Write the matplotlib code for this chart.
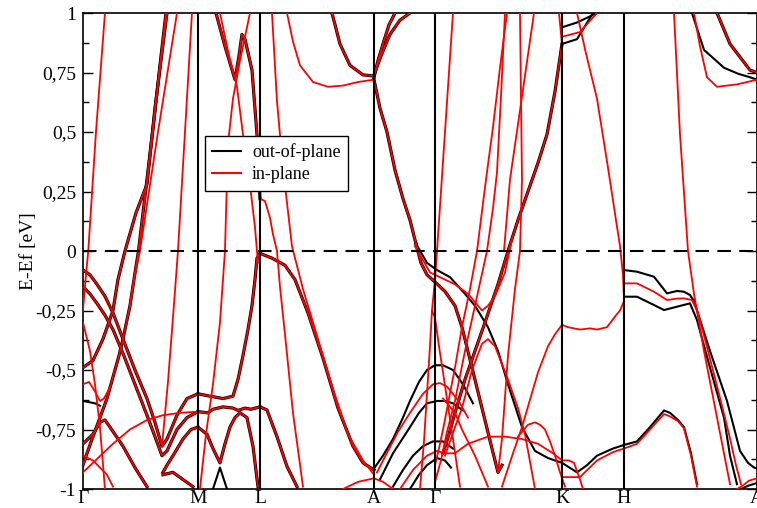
import matplotlib
matplotlib.use("Agg")
import matplotlib.pyplot as plt
from matplotlib.lines import Line2D
from matplotlib.ticker import MultipleLocator

plt.rcParams['font.family'] = ['Liberation Serif', 'DejaVu Serif']

# high-symmetry points along the path
k_ticks = [0.0, 1.15, 1.77, 2.91, 3.52, 4.79, 5.41, 6.74]
k_labels = ['Γ', 'M', 'L', 'A', 'Γ', 'K', 'H', 'A']

y_ticks = [1, 0.75, 0.5, 0.25, 0, -0.25, -0.5, -0.75, -1]
y_labels = ['1', '0,75', '0,5', '0,25', '0', '-0,25', '-0,5', '-0,75', '-1']

# bands, (k, E-Ef) pairs
# "both" = out-of-plane and in-plane almost on top of each other
gm_both = [
    [(0, -0.08), (0.07, -0.10), (0.14, -0.14), (0.22, -0.19), (0.30, -0.26), (0.40, -0.37), (0.52, -0.50),
     (0.64, -0.62), (0.72, -0.72), (0.79, -0.82), (0.84, -0.79), (0.94, -0.69), (1.04, -0.62), (1.15, -0.60)],
    [(0, -0.15), (0.07, -0.18), (0.14, -0.22), (0.22, -0.27), (0.30, -0.33), (0.40, -0.43), (0.52, -0.56),
     (0.64, -0.69), (0.72, -0.78), (0.79, -0.86), (0.84, -0.84), (0.94, -0.75), (1.04, -0.70), (1.15, -0.675)],
    [(0, -0.90), (0.04, -0.85), (0.10, -0.78), (0.17, -0.70), (0.24, -0.62), (0.30, -0.53), (0.36, -0.44),
     (0.40, -0.37), (0.47, -0.23), (0.51, -0.12), (0.555, 0.0), (0.64, 0.30), (0.71, 0.55), (0.77, 0.78), (0.83, 1.0)],
    [(0, -0.49), (0.10, -0.46), (0.20, -0.37), (0.30, -0.25), (0.35, -0.12), (0.42, 0.0), (0.53, 0.16),
     (0.64, 0.28), (0.72, 0.6), (0.84, 1.0)],
    [(0, -0.81), (0.10, -0.77), (0.17, -0.72), (0.22, -0.71), (0.27, -0.74), (0.40, -0.82), (0.52, -0.91), (0.64, -0.99)],
    [(0.80, -0.93), (0.84, -0.90), (0.90, -0.86), (1.0, -0.79), (1.08, -0.75), (1.15, -0.74)],
    [(0.80, -0.94), (0.90, -0.93), (1.0, -0.96), (1.1, -0.99)],
]
gm_red = [
    [(0, -0.25), (0.03, -0.10), (0.053, 0.0), (0.13, 0.5), (0.22, 1.0)],
    [(0, -0.30), (0.07, -0.42), (0.12, -0.56), (0.17, -0.74), (0.22, -1.0)],
    [(0, -0.56), (0.06, -0.55), (0.12, -0.59), (0.17, -0.63), (0.21, -0.62), (0.26, -0.58)],
    [(0.47, -0.23), (0.51, -0.12), (0.57, 0.0), (0.75, 0.5), (0.94, 1.0)],
    [(0.79, -0.82), (0.85, -0.55), (0.90, -0.28), (0.95, 0.0), (1.02, 0.5), (1.09, 1.0)],
    [(0, -0.93), (0.10, -0.89), (0.20, -0.85), (0.30, -0.81), (0.47, -0.75), (0.64, -0.71), (0.80, -0.69),
     (0.97, -0.68), (1.15, -0.675)],
    [(0, -0.86), (0.10, -0.88), (0.24, -0.94), (0.30, -0.99)],
]
gm_black = [
    [(0, -0.63), (0.06, -0.635), (0.12, -0.64), (0.17, -0.65)],
]

ml_both = [
    [(1.15, -0.60), (1.27, -0.61), (1.40, -0.62), (1.50, -0.61), (1.55, -0.54), (1.60, -0.44), (1.65, -0.33),
     (1.69, -0.23), (1.72, -0.12), (1.74, -0.03), (1.77, -0.01)],
    [(1.15, -0.675), (1.25, -0.68), (1.30, -0.665), (1.40, -0.655), (1.50, -0.66), (1.55, -0.67), (1.62, -0.66),
     (1.68, -0.665), (1.77, -0.655)],
    [(1.15, -0.74), (1.24, -0.77), (1.30, -0.83), (1.37, -0.89), (1.42, -0.81), (1.47, -0.74), (1.52, -0.70),
     (1.57, -0.68), (1.64, -0.70), (1.70, -0.82), (1.75, -0.99)],
    [(1.33, 1.0), (1.42, 0.86), (1.52, 0.72), (1.56, 0.82), (1.59, 0.91), (1.62, 0.89), (1.69, 0.76),
     (1.74, 0.49), (1.77, 0.22)],
]
ml_red = [
    [(1.17, -1.0), (1.23, -0.77), (1.30, -0.56), (1.37, -0.30), (1.42, 0.0), (1.45, 0.45), (1.50, 0.64),
     (1.57, 0.80), (1.67, 1.0)],
    [(1.37, 1.0), (1.45, 0.84), (1.54, 0.69), (1.60, 0.49), (1.65, 0.35), (1.72, 0.10), (1.75, -0.05)],
]
ml_black = [
    [(1.30, -1.0), (1.37, -0.91), (1.44, -1.0)],
]

la_both = [
    [(1.77, -0.01), (1.89, -0.03), (2.02, -0.06), (2.12, -0.12), (2.25, -0.26), (2.40, -0.45), (2.55, -0.66),
     (2.70, -0.82), (2.80, -0.89), (2.91, -0.92)],
    [(1.77, -0.655), (1.84, -0.668), (1.94, -0.78), (2.04, -0.905), (2.14, -0.99)],
    [(2.49, 1.0), (2.57, 0.87), (2.67, 0.78), (2.80, 0.74), (2.91, 0.735)],
]
la_red = [
    [(1.77, 0.22), (1.82, 0.21), (1.87, 0.14), (1.90, 0.07), (1.94, 0.0), (1.97, -0.15), (2.02, -0.35),
     (2.10, -0.68), (2.20, -0.99)],
    [(1.89, 1.0), (1.94, 0.63), (2.0, 0.35), (2.09, 0.02), (2.2, -0.16), (2.35, -0.37), (2.5, -0.58),
     (2.65, -0.77), (2.8, -0.88), (2.91, -0.94)],
    [(2.04, 1.0), (2.10, 0.88), (2.17, 0.78), (2.30, 0.71), (2.45, 0.69), (2.60, 0.695), (2.75, 0.71), (2.91, 0.72)],
    [(2.60, -1.0), (2.75, -0.97), (2.91, -0.955), (3.0, -0.97), (3.1, -1.0)],
]

ag_both = [
    [(2.91, 0.73), (2.95, 0.80), (3.00, 0.87), (3.06, 0.95), (3.12, 1.0)],
    [(2.91, 0.74), (2.98, 0.82), (3.07, 0.91), (3.17, 0.97), (3.27, 1.0)],
    [(2.91, 0.72), (2.97, 0.60), (3.04, 0.50), (3.12, 0.34), (3.20, 0.22), (3.27, 0.13), (3.33, 0.03)],
    [(3.33, 0.03), (3.38, -0.05), (3.44, -0.10), (3.52, -0.13), (3.62, -0.17), (3.72, -0.23), (3.79, -0.32),
     (3.89, -0.49), (3.99, -0.66), (4.09, -0.83), (4.15, -0.93), (4.19, -0.90)],
    [(3.60, -0.85), (3.66, -0.77), (3.72, -0.68), (3.82, -0.54), (3.92, -0.42), (4.02, -0.30), (4.15, -0.14),
     (4.25, 0.0), (4.35, 0.13), (4.45, 0.25), (4.55, 0.37), (4.64, 0.49), (4.72, 0.67), (4.79, 0.87)],
]
ag_black = [
    [(3.33, 0.03), (3.44, -0.05), (3.54, -0.08), (3.67, -0.11), (3.82, -0.18), (3.92, -0.23), (4.05, -0.32),
     (4.15, -0.42), (4.25, -0.56), (4.39, -0.74), (4.52, -0.84), (4.65, -0.87), (4.79, -0.89)],
    [(2.90, -0.92), (3.00, -0.86), (3.10, -0.79), (3.20, -0.70), (3.27, -0.63), (3.36, -0.55), (3.44, -0.50),
     (3.52, -0.48), (3.60, -0.48), (3.70, -0.50), (3.80, -0.56), (3.90, -0.64)],
    [(2.97, -0.96), (3.10, -0.85), (3.27, -0.74), (3.36, -0.68), (3.44, -0.64), (3.54, -0.63), (3.62, -0.63),
     (3.70, -0.64), (3.80, -0.67)],
    [(3.10, -0.99), (3.20, -0.92), (3.30, -0.86), (3.40, -0.82), (3.50, -0.80), (3.60, -0.80), (3.70, -0.83)],
    [(3.27, -1.0), (3.36, -0.94), (3.44, -0.90), (3.54, -0.87), (3.62, -0.88), (3.68, -0.91)],
]
ag_red = [
    [(2.94, -0.93), (3.05, -0.84), (3.15, -0.76), (3.27, -0.68), (3.40, -0.60), (3.50, -0.56), (3.57, -0.555),
     (3.64, -0.57), (3.70, -0.60), (3.77, -0.64), (3.85, -0.70)],
    [(3.17, -1.0), (3.30, -0.92), (3.44, -0.86), (3.54, -0.84), (3.62, -0.85), (3.72, -0.85)],
    [(3.37, -1.0), (3.41, -0.80), (3.44, -0.60), (3.47, -0.40), (3.49, -0.25), (3.52, -0.28), (3.56, -0.40),
     (3.60, -0.51), (3.65, -0.65), (3.70, -0.79), (3.77, -0.99)],
    [(3.49, -0.25), (3.52, -0.12), (3.54, 0.0), (3.62, 0.5), (3.70, 1.0)],
    [(3.32, 0.02), (3.47, -0.09), (3.57, -0.11), (3.72, -0.14), (3.85, -0.18), (3.99, -0.25), (4.05, -0.23),
     (4.12, -0.19), (4.22, -0.09), (4.29, 0.05)],
]

gk_red = [
    [(3.52, -0.90), (3.56, -0.83), (3.61, -0.73), (3.66, -0.62), (3.72, -0.49), (3.79, -0.32), (3.87, -0.16),
     (3.94, 0.0), (4.03, 0.30), (4.10, 0.52), (4.17, 0.77), (4.24, 1.0)],
    [(3.52, -0.97), (3.58, -0.88), (3.64, -0.76), (3.72, -0.63), (3.82, -0.42), (3.92, -0.23), (4.04, 0.0),
     (4.10, 0.18), (4.14, 0.33), (4.18, 0.65), (4.22, 1.0)],
    [(4.21, 0.0), (4.27, 0.30), (4.38, 0.62), (4.51, 1.0)],
    [(4.15, -0.93), (4.19, -0.79), (4.25, -0.44), (4.32, -0.16), (4.37, 0.0), (4.39, 0.3), (4.38, 0.65), (4.37, 1.0)],
    [(3.62, -0.86), (3.72, -0.74), (3.79, -0.66), (3.89, -0.50), (3.99, -0.39), (4.05, -0.37), (4.12, -0.40),
     (4.25, -0.54), (4.35, -0.66), (4.42, -0.77), (4.52, -1.0)],
    [(3.72, -0.85), (3.85, -0.81), (4.05, -0.78), (4.22, -0.78), (4.39, -0.79), (4.55, -0.81), (4.70, -0.85),
     (4.79, -0.88), (4.86, -0.88), (4.91, -0.89), (4.97, -0.96), (5.0, -1.0)],
    [(4.19, -0.99), (4.30, -0.85), (4.39, -0.74), (4.55, -0.51), (4.65, -0.40), (4.72, -0.35), (4.79, -0.31)],
    [(4.35, -0.78), (4.45, -0.73), (4.52, -0.72), (4.57, -0.73), (4.62, -0.75), (4.67, -0.80), (4.72, -0.86),
     (4.77, -0.93), (4.82, -0.99)],
    [(3.60, -0.62), (3.72, -0.68), (3.79, -0.75), (3.92, -0.86), (4.05, -0.99)],
    [(4.76, 1.0), (4.79, 0.87)],
]

kh_black = [
    [(4.79, 0.94), (4.94, 0.96), (5.14, 1.0)],
    [(4.79, 0.87), (4.94, 0.89), (5.10, 1.0)],
    [(4.79, -0.89), (4.94, -0.93), (5.04, -0.90), (5.14, -0.86), (5.30, -0.83), (5.41, -0.815), (5.54, -0.80),
     (5.67, -0.74), (5.81, -0.67), (5.87, -0.68), (5.95, -0.71), (6.01, -0.74), (6.08, -0.85), (6.14, -0.98)],
]
kh_red = [
    [(4.79, 0.90), (4.97, 0.92), (5.14, 1.0)],
    [(4.79, -0.95), (4.97, -0.95), (5.14, -0.88), (5.30, -0.845), (5.41, -0.83), (5.54, -0.81), (5.67, -0.75),
     (5.81, -0.685), (5.87, -0.695), (5.95, -0.715), (6.01, -0.745), (6.08, -0.86), (6.14, -0.99)],
    [(4.79, -0.31), (4.85, -0.32), (4.97, -0.33), (5.07, -0.325), (5.14, -0.33), (5.24, -0.32), (5.33, -0.27),
     (5.37, -0.25), (5.41, -0.21)],
    [(4.94, 1.0), (5.03, 0.83), (5.14, 0.64), (5.25, 0.35), (5.37, 0.02), (5.40, -0.1), (5.41, -0.2)],
]

ha_black = [
    [(5.41, -0.08), (5.54, -0.087), (5.71, -0.108), (5.84, -0.178), (5.94, -0.168), (6.01, -0.171), (6.07, -0.185),
     (6.11, -0.21), (6.27, -0.42), (6.44, -0.63), (6.57, -0.84), (6.65, -0.89), (6.71, -0.91), (6.74, -0.913)],
    [(5.41, -0.192), (5.54, -0.192), (5.71, -0.227), (5.81, -0.248), (5.94, -0.234), (6.07, -0.22), (6.14, -0.29),
     (6.27, -0.49), (6.41, -0.70), (6.47, -0.86), (6.54, -0.98)],
    [(6.58, -1.0), (6.66, -0.985), (6.74, -0.975)],
    [(6.09, 1.0), (6.21, 0.845), (6.41, 0.77), (6.55, 0.745), (6.67, 0.73), (6.74, 0.72)],
]
ha_red = [
    [(5.41, -0.136), (5.54, -0.136), (5.71, -0.171), (5.84, -0.206), (5.94, -0.20), (6.01, -0.199), (6.09, -0.206),
     (6.15, -0.26), (6.25, -0.42), (6.36, -0.60), (6.46, -0.77), (6.53, -0.90), (6.58, -0.98)],
    [(5.91, 1.0), (5.97, 0.49), (6.05, 0.0), (6.11, -0.18), (6.21, -0.42), (6.34, -0.70), (6.47, -0.98)],
    [(6.11, 1.0), (6.17, 0.86), (6.24, 0.73), (6.34, 0.69), (6.54, 0.70), (6.74, 0.72)],
    [(6.54, -1.0), (6.60, -0.985), (6.66, -0.965), (6.74, -0.955)],
]
ha_both = [
    [(6.34, 1.0), (6.47, 0.87), (6.67, 0.76), (6.74, 0.75)],
]

both_sets = gm_both + ml_both + la_both + ag_both + ha_both
black_sets = gm_black + ml_black + ag_black + kh_black + ha_black
red_sets = gm_red + ml_red + la_red + ag_red + gk_red + kh_red + ha_red

fig = plt.figure(figsize=(7.57, 5.08), dpi=100)
ax = fig.add_axes([0.1096, 0.0374, 0.8904, 0.937])

for band in both_sets + black_sets:
    ks, es = zip(*band)
    ax.plot(ks, es, color='black', lw=2.3 if band in both_sets else 1.5, solid_joinstyle='round', zorder=2)
for band in both_sets + red_sets:
    ks, es = zip(*band)
    ax.plot(ks, es, color='#ff0000', lw=1.3, solid_joinstyle='round', zorder=3)

for k in k_ticks[1:-1]:
    ax.axvline(k, color='black', lw=1.5, zorder=4)
ax.axhline(0, color='black', lw=1.5, ls=(0, (6.5, 4)), zorder=4)

ax.set_xlim(k_ticks[0], k_ticks[-1])
ax.set_ylim(-1, 1)
ax.set_xticks(k_ticks)
ax.set_xticklabels(k_labels, fontsize=14)
ax.set_yticks(y_ticks)
ax.set_yticklabels(y_labels, fontsize=14)
ax.yaxis.set_minor_locator(MultipleLocator(0.125))
ax.tick_params(axis='x', length=0, pad=1)
ax.tick_params(axis='y', which='major', direction='in', length=7, width=1, right=True, pad=5)
ax.tick_params(axis='y', which='minor', direction='in', length=4, width=1, right=True)
for sp in ax.spines.values():
    sp.set_linewidth(1.2)
ax.set_ylabel('E-Ef [eV]', fontsize=14, labelpad=-1)

handles = [Line2D([], [], color='black', lw=1.5), Line2D([], [], color='#ff0000', lw=1.5)]
leg = ax.legend(handles, ['out-of-plane', 'in-plane'], loc='upper left', bbox_to_anchor=(0.181, 0.742),
                borderaxespad=0, fontsize=13, frameon=True, fancybox=False, framealpha=1,
                edgecolor='black', handlelength=1.6, borderpad=0.4, labelspacing=0.3, handletextpad=0.6)
leg.get_frame().set_linewidth(1.0)

fig.savefig('out.png', dpi=100)
